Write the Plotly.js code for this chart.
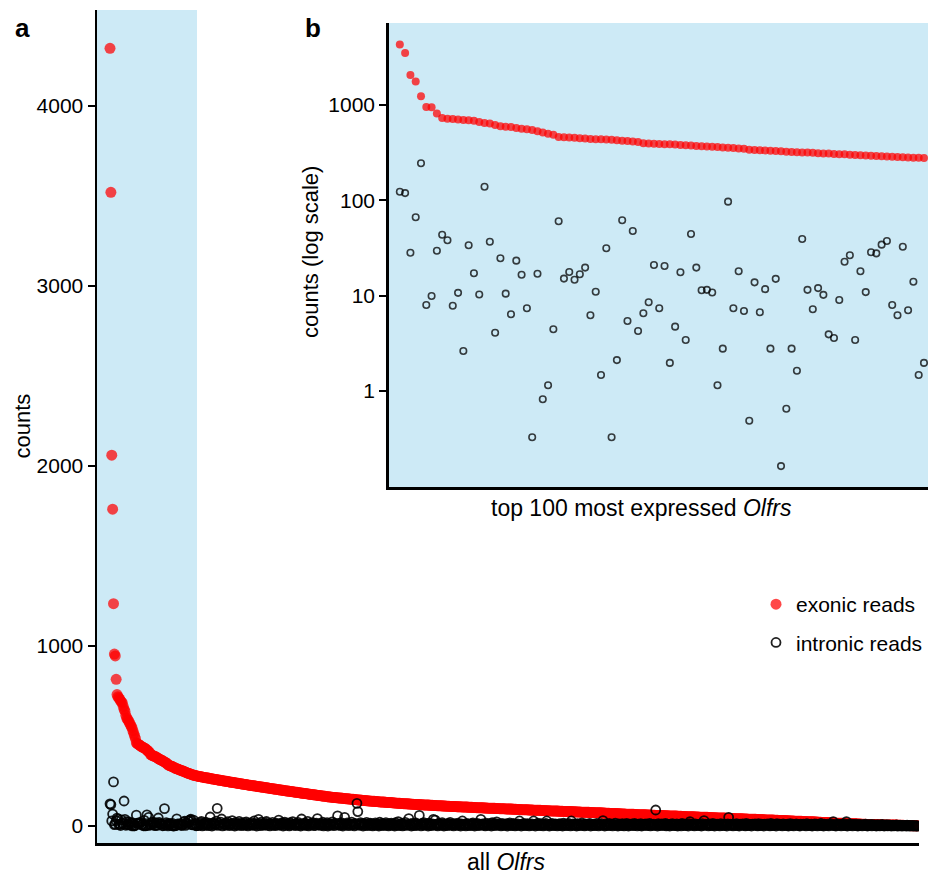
<!DOCTYPE html>
<html>
<head>
<meta charset="utf-8">
<script src="https://cdn.plot.ly/plotly-3.0.1.min.js"></script>
<style>html,body{margin:0;padding:0;background:#fff;}#chart{width:928px;height:877px;}</style>
</head>
<body>
<div id="chart"></div>
<script>
// ---- data ----
// top 100 most expressed Olfrs (rank 1..100)
const topExonic = [4320,3520,2060,1760,1235,955,945,815,730,718,
712,705,695,690,684,665,648,638,615,600,
592,586,575,565,555,546,530,515,500,486,
462,458,455,452,448,444,441,438,436,434,
431,427,422,418,413,409,398,395,393,390,
388,387,385,381,378,375,372,369,367,365,
362,359,356,353,350,347,340,338,336,334,
332,330,328,324,322,320,318,317,315,312,
310,309,307,305,304,301,299,297,295,293,
291,290,288,286,284,283,282,280,279,278];
const topIntronic = [123,119,28.2,66.4,245,7.98,9.92,29.6,43.6,38.1,
7.85,10.7,2.63,33.8,17.2,10.3,139,36.8,4.09,24.7,
10.5,6.38,23.3,16.6,7.37,0.327,17.0,0.818,1.15,4.44,
60.3,15.1,17.7,14.7,16.8,19.7,6.22,11.0,1.47,31.4,
0.327,2.11,61.8,5.43,47.7,4.26,6.53,8.52,21.0,7.37,
20.5,1.97,4.73,17.6,3.43,44.4,19.7,11.4,11.5,10.8,
1.15,2.78,96.8,7.37,18.0,6.91,0.488,13.8,6.69,11.7,
2.78,15.0,0.163,0.652,2.78,1.63,39.3,11.5,7.19,12.0,
10.2,3.93,3.60,9.01,22.7,26.5,3.43,18.0,10.9,28.5,
27.8,34.3,37.4,7.98,6.22,32.6,7.03,14.0,1.47,1.97];
// remaining Olfrs (rank 101..920)
const restExonic = [277,276,275,274,273,272,271,270,269,268,
268,267,266,265,264,263,262,261,260,260,
259,258,257,256,255,254,254,253,252,251,
250,249,248,248,247,246,245,244,243,243,
242,241,240,239,239,238,237,236,235,235,
234,233,232,231,231,230,229,228,227,227,
226,225,224,224,223,222,221,221,220,219,
218,218,217,216,215,215,214,213,212,212,
211,210,209,209,208,207,206,206,205,204,
203,203,202,201,200,200,199,198,197,196,
196,195,194,194,193,192,192,191,190,189,
189,188,187,187,186,185,185,184,183,182,
182,181,180,180,179,178,178,177,176,175,
175,174,173,173,172,171,171,170,169,169,
168,167,167,166,165,165,164,163,163,162,
161,161,160,160,159,159,158,158,157,157,
156,156,155,155,154,154,153,153,152,152,
151,151,150,150,149,149,148,148,147,147,
146,146,145,145,144,144,143,143,142,142,
141,141,140,140,139,139,139,138,138,138,
137,137,136,136,136,135,135,134,134,134,
133,133,133,132,132,131,131,131,130,130,
130,129,129,128,128,128,127,127,127,126,
126,125,125,125,124,124,124,123,123,123,
122,122,122,121,121,121,120,120,120,120,
119,119,119,118,118,118,118,117,117,117,
116,116,116,116,115,115,115,115,114,114,
114,114,113,113,113,112,112,112,112,111,
111,111,111,110,110,110,110,109,109,109,
109,108,108,108,108,107,107,107,107,107,
106,106,106,106,105,105,105,105,104,104,
104,104,104,103,103,103,103,102,102,102,
102,101,101,101,101,101,100,100,100,100,
99,99,99,99,98,98,98,98,98,97,
97,97,97,96,96,96,96,96,96,96,
95,95,95,95,94,94,94,94,94,93,
93,93,93,92,92,92,92,92,91,91,
91,91,91,90,90,90,90,89,89,89,
89,89,88,88,88,88,88,87,87,87,
87,86,86,86,86,86,85,85,85,85,
85,84,84,84,84,84,83,83,83,83,
83,82,82,82,82,82,81,81,81,81,
81,80,80,80,80,80,79,79,79,79,
79,78,78,78,78,78,77,77,77,77,
77,76,76,76,76,76,75,75,75,75,
75,74,74,74,74,73,73,73,73,73,
72,72,72,72,71,71,71,71,71,70,
70,70,70,69,69,69,69,69,68,68,
68,68,67,67,67,67,67,66,66,66,
66,66,65,65,65,65,65,64,64,64,
64,63,63,63,63,63,62,62,62,62,
62,61,61,61,61,61,60,60,60,60,
60,59,59,59,59,59,58,58,58,58,
58,57,57,57,57,57,56,56,56,56,
56,55,55,55,55,55,54,54,54,54,
54,53,53,53,53,53,52,52,52,52,
52,51,51,51,51,51,50,50,50,50,
50,49,49,49,49,49,48,48,48,48,
48,47,47,47,47,47,46,46,46,46,
46,45,45,45,45,45,44,44,44,44,
44,43,43,43,43,43,42,42,42,42,
42,41,41,41,41,41,40,40,40,40,
40,39,39,39,39,39,38,38,38,38,
38,37,37,37,37,37,36,36,36,36,
36,35,35,35,35,35,34,34,34,34,
34,33,33,33,33,33,32,32,32,32,
32,31,31,31,31,30,30,30,30,30,
29,29,29,29,28,28,28,28,28,27,
27,27,27,26,26,26,26,26,25,25,
25,25,25,24,24,24,24,24,23,23,
23,23,22,22,22,22,21,21,21,21,
20,20,20,20,19,19,19,19,18,18,
18,18,17,17,17,17,16,16,16,16,
15,15,15,15,14,14,14,14,13,13,
13,13,13,12,12,12,12,12,12,12,
11,11,11,11,11,10,10,10,10,10,
10,9,9,9,9,9,9,8,8,8,
8,8,8,7,7,7,7,7,7,7,
6,6,6,6,6,6,6,5,5,5,
5,5,5,5,5,5,5,4,4,4,
4,4,4,4,3,3,3,3,3,3,
3,2,2,2,2,2,2,1,1,1];
const restIntronic = [12,3,18,7,25,1,9,14,4,21,
6,11,2,16,50,8,0,13,19,5,
10,27,98,3,15,7,22,39,1,12,
9,4,17,6,24,11,2,8,14,30,
5,13,0,20,7,10,3,26,9,16,
2,12,6,18,4,23,8,1,15,11,
7,19,3,10,28,5,14,0,9,37,
13,2,21,6,11,4,17,8,25,3,
10,15,1,12,7,20,5,9,2,16,
6,11,33,4,13,8,19,0,10,22,
3,14,7,9,1,18,5,12,24,6,
11,2,15,8,20,4,10,0,39,7,
13,5,17,3,9,26,1,12,6,14,
8,19,2,11,4,16,41,7,10,3,
15,6,21,1,9,12,5,18,0,8,
13,4,10,23,7,2,16,9,11,56,
5,14,3,19,8,0,12,48,6,10,
17,2,9,13,4,22,7,11,1,15,
6,126,80,10,3,18,8,12,0,14,
5,9,20,2,11,7,16,4,13,1,
10,6,17,3,12,8,0,21,5,9,
14,2,11,7,19,4,10,1,13,6,
16,3,9,12,0,18,5,8,24,2,
11,7,14,1,10,4,20,6,9,3,
41,8,12,0,15,5,10,2,17,7,
4,11,59,9,1,14,6,19,3,10,
8,13,0,16,5,9,2,12,37,7,
33,4,11,1,15,6,10,3,18,8,
0,12,5,9,2,14,7,20,4,11,
6,1,13,8,10,3,16,5,9,0,
12,28,4,10,7,1,15,6,11,2,
8,13,3,17,9,0,11,5,14,6,
2,10,37,7,12,4,9,1,16,5,
11,3,8,14,0,19,6,10,2,13,
23,7,4,12,9,1,15,5,10,3,
8,13,0,11,6,17,2,9,4,14,
7,1,10,5,12,3,28,8,0,11,
6,15,2,9,4,13,7,1,10,5,
12,3,28,8,0,11,6,16,2,9,
4,13,7,1,10,5,14,28,3,8,
0,11,6,15,2,9,4,12,7,1,
10,5,13,3,8,0,16,6,11,2,
9,4,14,7,1,28,5,12,3,10,
6,0,13,8,2,11,5,17,4,9,
1,12,7,3,10,6,14,0,8,5,
11,2,9,4,15,7,1,10,6,13,
3,30,8,0,12,5,9,2,14,7,
4,11,1,10,6,16,3,8,0,12,
5,9,2,13,7,1,11,4,15,6,
0,10,3,8,12,5,2,14,7,9,
1,11,6,4,13,0,9,3,10,7,
12,2,8,5,15,1,10,6,3,11,
4,89,7,0,13,5,9,2,12,6,
8,3,14,1,10,5,7,0,11,4,
13,6,2,9,3,12,0,8,5,10,
1,14,7,4,11,2,9,6,0,13,
24,5,10,3,8,1,12,6,4,9,
2,11,7,0,13,5,30,3,10,6,
8,1,12,4,9,2,14,7,0,11,
5,10,3,8,1,13,6,4,11,2,
9,7,0,12,48,5,10,3,8,1,
11,6,4,13,2,9,0,10,7,5,
12,3,8,1,14,6,2,11,4,9,
0,10,7,5,12,3,8,1,13,6,
2,11,4,9,0,10,7,5,12,3,
8,1,14,6,2,11,4,9,0,13,
7,5,10,3,8,1,12,6,4,9,
2,11,0,7,13,5,3,10,1,8,
6,12,4,9,2,0,11,7,5,10,
3,8,1,13,6,4,9,2,11,0,
7,5,12,3,10,1,8,6,4,14,
2,9,0,11,7,5,3,10,1,8,
6,12,4,24,2,9,0,7,5,11,
3,8,1,10,6,4,12,2,24,0,
9,7,5,3,11,1,8,6,4,10,
2,0,7,5,9,3,1,8,6,4,
10,2,0,7,5,3,9,1,6,4,
8,2,0,5,7,3,1,6,4,9,
2,0,5,3,7,1,4,6,2,0,
3,5,1,4,2,6,0,3,1,5,
2,0,4,1,3,2,0,5,1,3,
0,2,1,3,0,1,2,0,1,0];
const logTickVals = [1, 10, 100, 1000];
const logTickText = ['1', '10', '100', '1000'];
const linTickVals = [0, 1000, 2000, 3000, 4000];
const seriesNames = ['exonic reads', 'intronic reads'];
const topN = 100;

// ---- build ----
const allExonic = topExonic.concat(restExonic);
const allIntronic = topIntronic.concat(restIntronic);
const rankAll = allExonic.map((_, i) => i + 1);
const rankTop = topExonic.map((_, i) => i + 1);

const W = 928, H = 877;
const FONT = 'Liberation Sans, Arial, Helvetica, sans-serif';
const BLUE = '#cdeaf6';
const RED = 'rgba(255,0,0,0.72)';
const px = v => v / W;
const py = v => 1 - v / H;

const traces = [
  {x: rankAll, y: allExonic, type: 'scatter', mode: 'markers', name: seriesNames[0],
   xaxis: 'x', yaxis: 'y', legendgroup: 'a',
   marker: {size: 11, color: RED, line: {width: 0}}},
  {x: rankAll, y: allIntronic, type: 'scatter', mode: 'markers', name: seriesNames[1],
   xaxis: 'x', yaxis: 'y', legendgroup: 'b',
   marker: {size: 9, symbol: 'circle-open', color: 'rgba(0,0,0,0.88)', line: {width: 1.8}}},
  {x: rankTop, y: topExonic, type: 'scatter', mode: 'markers', name: seriesNames[0],
   xaxis: 'x2', yaxis: 'y2', showlegend: false,
   marker: {size: 8, color: RED, line: {width: 0}}},
  {x: rankTop, y: topIntronic, type: 'scatter', mode: 'markers', name: seriesNames[1],
   xaxis: 'x2', yaxis: 'y2', showlegend: false,
   marker: {size: 6.5, symbol: 'circle-open', color: 'rgba(0,0,0,0.75)', line: {width: 1.6}}}
];

const axisCommon = {showgrid: false, zeroline: false, showline: true, linecolor: '#000', linewidth: 2.5,
  tickfont: {family: FONT, size: 21, color: '#000'}};

const layout = {
  width: W, height: H,
  margin: {l: 0, r: 0, t: 0, b: 0, pad: 0},
  paper_bgcolor: '#fff', plot_bgcolor: 'rgba(0,0,0,0)',
  font: {family: FONT, size: 21, color: '#000'},
  showlegend: true,
  legend: {x: px(756), y: py(584), xanchor: 'left', yanchor: 'top',
    font: {family: FONT, size: 21, color: '#000'}, bgcolor: 'rgba(0,0,0,0)',
    traceorder: 'grouped', tracegroupgap: 8},
  xaxis: Object.assign({}, axisCommon, {domain: [px(97), px(919)], range: [-13.79, 921.6],
    showticklabels: false, ticks: '', anchor: 'y'}),
  yaxis: Object.assign({}, axisCommon, {domain: [py(843), py(10)], range: [-94.4, 4533],
    tickvals: linTickVals, ticks: 'outside', ticklen: 7, tickwidth: 2, tickcolor: '#000', anchor: 'x'}),
  xaxis2: Object.assign({}, axisCommon, {domain: [px(388.7), 1], range: [-1.1, 100.76],
    showticklabels: false, ticks: '', anchor: 'y2'}),
  yaxis2: Object.assign({}, axisCommon, {domain: [py(487), py(23)], type: 'log', range: [-1.007, 3.860],
    tickvals: logTickVals, ticktext: logTickText, ticks: 'outside', ticklen: 7, tickwidth: 2, tickcolor: '#000', anchor: 'x2'}),
  shapes: [
    {type: 'rect', xref: 'x', yref: 'y domain', x0: -13.79, x1: topN, y0: 0, y1: 1,
     fillcolor: BLUE, line: {width: 0}, layer: 'below'},
    {type: 'rect', xref: 'x2 domain', yref: 'y2 domain', x0: 0, x1: 1, y0: 0, y1: 1,
     fillcolor: BLUE, line: {width: 0}, layer: 'below'}
  ],
  annotations: [
    {text: '<b>a</b>', xref: 'paper', yref: 'paper', x: px(22), y: py(28), xanchor: 'center', yanchor: 'middle',
     showarrow: false, font: {family: FONT, size: 26, color: '#000'}},
    {text: '<b>b</b>', xref: 'paper', yref: 'paper', x: px(313), y: py(28), xanchor: 'center', yanchor: 'middle',
     showarrow: false, font: {family: FONT, size: 26, color: '#000'}},
    {text: 'counts', xref: 'paper', yref: 'paper', x: px(22), y: py(426.5), xanchor: 'center', yanchor: 'middle',
     textangle: -90, showarrow: false, font: {family: FONT, size: 22, color: '#000'}},
    {text: 'all <i>Olfrs</i>', xref: 'paper', yref: 'paper', x: px(506), y: py(862), xanchor: 'center', yanchor: 'middle',
     showarrow: false, font: {family: FONT, size: 23, color: '#000'}},
    {text: 'counts (log scale)', xref: 'paper', yref: 'paper', x: px(311), y: py(252), xanchor: 'center', yanchor: 'middle',
     textangle: -90, showarrow: false, font: {family: FONT, size: 22, color: '#000'}},
    {text: 'top 100 most expressed <i>Olfrs</i>', xref: 'paper', yref: 'paper', x: px(641), y: py(508), xanchor: 'center', yanchor: 'middle',
     showarrow: false, font: {family: FONT, size: 23, color: '#000'}}
  ]
};

Plotly.newPlot('chart', traces, layout, {staticPlot: true, displayModeBar: false});
</script>
</body>
</html>
